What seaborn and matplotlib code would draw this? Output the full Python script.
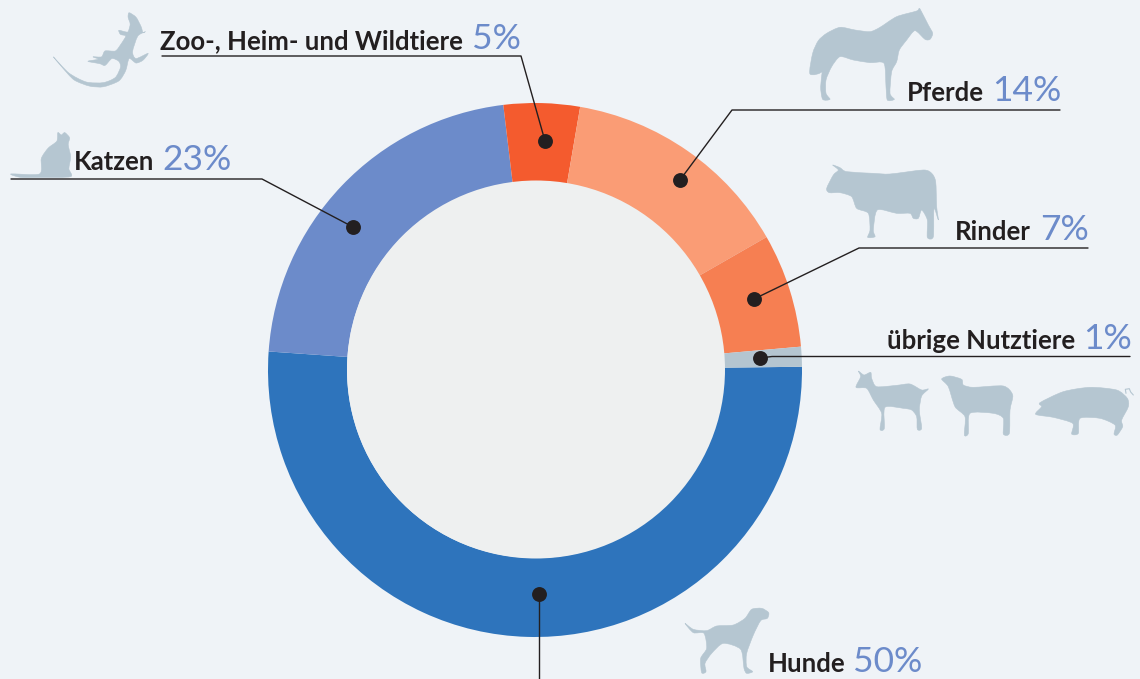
import matplotlib
matplotlib.use("Agg")
import matplotlib.pyplot as plt
import seaborn as sns
from matplotlib.patches import Circle, PathPatch
from matplotlib.path import Path

# Werte aus dem Bild
kategorien = ["Hunde", "Katzen", "Zoo-, Heim- und Wildtiere", "Pferde", "Rinder", "übrige Nutztiere"]
prozent_text = ["50%", "23%", "5%", "14%", "7%", "1%"]
anteile = [51.3, 22.0, 4.6, 14.0, 6.9, 1.2]
farben = ["#2E74BC", "#6C8BCA", "#F45B2E", "#FA9C75", "#F67F52", "#B4C5D0"]

BG = "#EFF3F7"
LOCH = "#EEF0F0"
TIER = "#B5C6D1"
SCHWARZ = "#231F20"
BLAU = "#6C8BCA"

sns.set_theme(style="white", rc={"figure.facecolor": BG, "savefig.facecolor": BG})
plt.rcParams["font.family"] = ["Lato", "DejaVu Sans"]

fig = plt.figure(figsize=(11.4, 6.79), dpi=100)
ax = fig.add_axes([0, 0, 1, 1])


# Pixel von oben gezaehlt, wie im Bild
def py(y):
    return 679 - y


ax.pie(anteile, colors=sns.color_palette(farben), startangle=0.7, counterclock=False,
       center=(535, py(370)), radius=267, wedgeprops={"width": 79, "linewidth": 0}, frame=True)
ax.add_patch(Circle((536, py(369.5)), 189, color=LOCH, lw=0))
ax.set_xlim(0, 1140)
ax.set_ylim(0, 679)
ax.axis("off")

# Linien: Punkt im Ring, Knick, Ende
linien = {
    "Hunde": [(539, 594), (539, 679)],
    "Katzen": [(353, 227), (262, 179), (11, 179)],
    "Zoo-, Heim- und Wildtiere": [(545, 141), (521, 56), (162, 56)],
    "Pferde": [(680, 180), (732, 110), (1060, 110)],
    "Rinder": [(754, 299), (859, 248), (1088, 248)],
    "übrige Nutztiere": [(760, 358), (772, 356.5), (1130, 356.5)],
}
for pts in linien.values():
    ax.plot([p[0] for p in pts], [py(p[1]) for p in pts], color=SCHWARZ, lw=1.0, zorder=4)
    ax.scatter(pts[0][0], py(pts[0][1]), s=115, color=SCHWARZ, linewidths=0, zorder=5)

# Textpositionen: Ende des Namens, Anfang der Zahl, Grundlinie
text_pos = {
    "Hunde": (845, 853, 672),
    "Katzen": (154, 162, 170),
    "Zoo-, Heim- und Wildtiere": (463, 472, 49),
    "Pferde": (984, 992, 101),
    "Rinder": (1031, 1040, 240),
    "übrige Nutztiere": (1075, 1083, 349),
}
for name, pct in zip(kategorien, prozent_text):
    x_ende, x_zahl, y = text_pos[name]
    ax.text(x_ende, py(y), name, ha="right", va="baseline", fontsize=18.5, fontweight="bold", color=SCHWARZ)
    ax.text(x_zahl, py(y), pct, ha="left", va="baseline", fontsize=25.5, fontweight="normal", color=BLAU)


def tier(punkte, ox=0, oy=0, s=3.0):
    xy = [(ox + x / s, py(oy + y / s)) for x, y in punkte]
    n = len(xy)
    verts = [xy[0]]
    codes = [Path.MOVETO]
    for i in range(n):
        p0, p1, p2, p3 = xy[i - 1], xy[i], xy[(i + 1) % n], xy[(i + 2) % n]
        c1 = (p1[0] + (p2[0] - p0[0]) / 8, p1[1] + (p2[1] - p0[1]) / 8)
        c2 = (p2[0] - (p3[0] - p1[0]) / 8, p2[1] - (p3[1] - p1[1]) / 8)
        verts += [c1, c2, p2]
        codes += [Path.CURVE4] * 3
    ax.add_patch(PathPatch(Path(verts, codes), facecolor=TIER, edgecolor=TIER, lw=0.4, zorder=3))


pferd = [(60, 222), (68, 160), (85, 122), (110, 100), (150, 82), (195, 90), (240, 95), (270, 82), (320, 50),
         (380, 33), (388, 25), (396, 38), (415, 75), (428, 100), (420, 118), (405, 118), (375, 92), (350, 120),
         (328, 150), (320, 185), (305, 215), (300, 280), (313, 298), (292, 300), (288, 260), (282, 190),
         (240, 188), (190, 180), (150, 170), (125, 200), (108, 240), (108, 280), (120, 298), (98, 298),
         (92, 260), (98, 205), (100, 185), (95, 125), (100, 210)]
kuh = [(110, 565), (130, 525), (145, 510), (128, 495), (150, 503), (170, 515), (250, 520), (300, 522), (400, 510),
       (425, 520), (437, 545), (440, 620), (445, 660), (432, 625), (430, 710), (412, 712), (412, 660), (395, 630),
       (385, 655), (370, 655), (360, 640), (320, 640), (262, 630), (250, 690), (255, 710), (233, 712), (240, 690),
       (235, 640), (200, 625), (185, 590), (150, 578), (118, 578)]
ziege = [(48, 232), (62, 200), (55, 183), (72, 195), (92, 187), (95, 205), (110, 230), (170, 226), (210, 222),
         (245, 240), (265, 237), (245, 258), (238, 300), (245, 355), (232, 358), (230, 320), (215, 300),
         (190, 295), (135, 292), (133, 355), (120, 358), (125, 310), (100, 270), (80, 235)]
schaf = [(305, 207), (330, 198), (365, 208), (370, 225), (400, 232), (490, 228), (518, 255), (510, 300), (508, 370),
         (490, 372), (490, 325), (460, 310), (390, 310), (385, 370), (373, 375), (375, 320), (345, 290), (325, 230)]
schwein = [(587, 313), (605, 290), (600, 278), (670, 245), (750, 232), (830, 240), (862, 265), (865, 290),
           (845, 330), (848, 350), (832, 375), (822, 372), (825, 345), (780, 325), (720, 325), (715, 370),
           (695, 372), (698, 340), (640, 322)]
schwanz = [(858, 250), (856, 238), (868, 236), (872, 246), (880, 255)]
hund = [(495, 160), (520, 178), (560, 182), (590, 168), (640, 165), (675, 145), (695, 118), (725, 115), (746, 128),
        (742, 145), (722, 152), (700, 195), (680, 250), (680, 290), (698, 305), (680, 310), (672, 295), (662, 238),
        (610, 220), (575, 250), (555, 280), (558, 305), (545, 308), (542, 265), (560, 235), (552, 190), (520, 188)]
eidechse = [(155, 165), (200, 212), (250, 238), (300, 240), (335, 225), (350, 195), (345, 178), (325, 170),
            (305, 190), (290, 185), (255, 178), (285, 172), (270, 165), (295, 165), (305, 148), (335, 148),
            (350, 130), (365, 105), (350, 100), (345, 88), (362, 92), (372, 92), (378, 70), (372, 50), (375, 37),
            (395, 50), (410, 78), (415, 95), (422, 92), (400, 105), (385, 150), (395, 170), (430, 155), (415, 175),
            (395, 183), (375, 170), (365, 205), (345, 235), (300, 252), (260, 250), (215, 232), (180, 195)]
katze = [(32, 505), (115, 505), (120, 460), (140, 430), (165, 410), (168, 385), (178, 392), (188, 385), (202, 400),
         (198, 420), (205, 455), (200, 490), (205, 513), (120, 515), (60, 515)]

tier(pferd, 790, 0)
tier(kuh, 790, 0)
tier(ziege, 840, 310)
tier(schaf, 840, 310)
tier(schwein, 840, 310)
tier(hund, 520, 570)
tier(eidechse, s=2.904)
tier(katze, s=2.904)
ax.plot([840 + x / 3 for x, y in schwanz], [py(310 + y / 3) for x, y in schwanz], color=TIER, lw=0.8, zorder=3)

fig.savefig("out.png", dpi=100)
